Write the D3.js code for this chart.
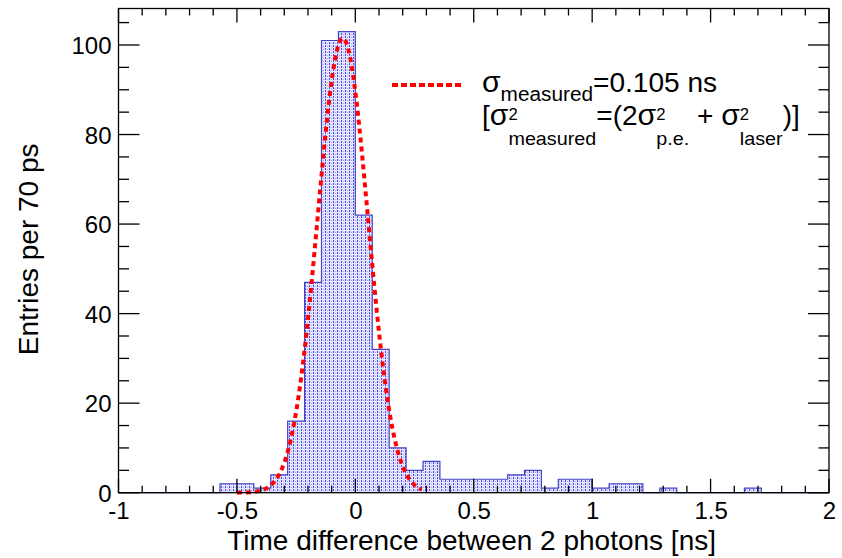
<!DOCTYPE html>
<html>
<head>
<meta charset="utf-8">
<script src="https://cdn.jsdelivr.net/npm/d3@7"></script>
<style>
  html, body { margin: 0; padding: 0; background: #fff; }
  svg { display: block; }
  text { font-family: "Liberation Sans", Arial, sans-serif; fill: #000; }
</style>
</head>
<body>
<svg id="chart" width="842" height="558"></svg>
<script>
// ---------------- data ----------------
const xRange = [-1, 2];
const nBins = 42;                 // 70 ps bins between -1 and 2 ns
const counts = [0, 0, 0, 0, 0, 0, 2, 2, 1, 4, 16, 47, 101, 103, 62, 32, 10, 5, 7, 3, 3,
                3, 3, 4, 5, 1, 3, 3, 1, 2, 2, 0, 1, 0, 0, 0, 0, 1, 0, 0, 0, 0];
const yMax = 108.15;
const xMajorTicks = [-1, -0.5, 0, 0.5, 1, 1.5, 2];
const xTickLabels = ["-1", "-0.5", "0", "0.5", "1", "1.5", "2"];
const yMajorTicks = [0, 20, 40, 60, 80, 100];
const yTickLabels = ["0", "20", "40", "60", "80", "100"];
// Gaussian fit parameters
const fitAmplitude = 101.5;
const fitMean = -0.053;
const fitSigma = 0.106;
const fitRange = [-0.5, 0.28];
const xTitle = "Time difference between 2 photons [ns]";
const yTitle = "Entries per 70 ps";

// ---------------- layout ----------------
const plot = { left: 118.5, right: 829, top: 8.5, bottom: 492.7 };
const svg = d3.select("#chart");

const x = d3.scaleLinear().domain(xRange).range([plot.left, plot.right]);
const y = d3.scaleLinear().domain([0, yMax]).range([plot.bottom, plot.top]);

// fill pattern (ROOT-like dotted hatch)
const defs = svg.append("defs");
const pat = defs.append("pattern").attr("id", "dots")
  .attr("patternUnits", "userSpaceOnUse").attr("width", 4).attr("height", 3);
pat.append("rect").attr("x", 0).attr("y", 0).attr("width", 4).attr("height", 3).attr("fill", "#e4e4fc");
pat.append("rect").attr("x", 1).attr("y", 0).attr("width", 1).attr("height", 2).attr("fill", "#4a4aee");
pat.append("rect").attr("x", 3).attr("y", 1).attr("width", 1).attr("height", 1).attr("fill", "#a4a4f6");

const clip = defs.append("clipPath").attr("id", "plotclip");
clip.append("rect").attr("x", plot.left).attr("y", plot.top - 5)
  .attr("width", plot.right - plot.left).attr("height", plot.bottom - plot.top + 10);

// histogram
const binW = (xRange[1] - xRange[0]) / nBins;
const bins = counts.map((c, i) => ({ x0: xRange[0] + i * binW, x1: xRange[0] + (i + 1) * binW, c }));

const areaPts = [];
bins.forEach(b => { areaPts.push([b.x0, b.c]); areaPts.push([b.x1, b.c]); });

svg.append("path")
  .attr("d", d3.area().x(d => x(d[0])).y0(y(0)).y1(d => y(d[1]))(areaPts))
  .attr("fill", "url(#dots)");

const linePts = [[bins[0].x0, 0], ...areaPts, [bins[bins.length - 1].x1, 0]];
svg.append("path")
  .attr("d", d3.line().x(d => x(d[0])).y(d => y(d[1]))(linePts))
  .attr("fill", "none").attr("stroke", "#4444c4").attr("stroke-width", 1.2);

// gaussian fit curve
const fitX = d3.range(fitRange[0], fitRange[1] + 1e-9, (fitRange[1] - fitRange[0]) / 200);
const gauss = v => fitAmplitude * Math.exp(-0.5 * Math.pow((v - fitMean) / fitSigma, 2));
svg.append("path")
  .attr("clip-path", "url(#plotclip)")
  .attr("d", d3.line().x(d => x(d)).y(d => y(gauss(d)))(fitX))
  .attr("fill", "none").attr("stroke", "#ff0000").attr("stroke-width", 4)
  .attr("stroke-dasharray", "5,4");

// frame
svg.append("rect")
  .attr("x", plot.left).attr("y", plot.top)
  .attr("width", plot.right - plot.left).attr("height", plot.bottom - plot.top)
  .attr("fill", "none").attr("stroke", "#000").attr("stroke-width", 1.3);

// ticks (ROOT style: inside, on all four sides)
const xMajLen = 14, xMinLen = 7, yMajLen = 21, yMinLen = 10.5;
const xMinor = d3.range(-1, 2.0001, 0.1).map(v => +v.toFixed(2));
const yMinor = d3.range(0, yMax, 5);
const ticksG = svg.append("g").attr("stroke", "#000").attr("stroke-width", 1.3);
xMinor.forEach(v => {
  const major = xMajorTicks.some(m => Math.abs(m - v) < 1e-6);
  const L = major ? xMajLen : xMinLen;
  ticksG.append("line").attr("x1", x(v)).attr("x2", x(v)).attr("y1", plot.bottom).attr("y2", plot.bottom - L);
  ticksG.append("line").attr("x1", x(v)).attr("x2", x(v)).attr("y1", plot.top).attr("y2", plot.top + L);
});
yMinor.forEach(v => {
  const major = yMajorTicks.includes(v);
  const L = major ? yMajLen : yMinLen;
  ticksG.append("line").attr("x1", plot.left).attr("x2", plot.left + L).attr("y1", y(v)).attr("y2", y(v));
  ticksG.append("line").attr("x1", plot.right).attr("x2", plot.right - L).attr("y1", y(v)).attr("y2", y(v));
});

// tick labels via d3 axis generators (lines hidden, labels only)
const xAxis = d3.axisBottom(x).tickValues(xMajorTicks).tickSize(0).tickPadding(0)
  .tickFormat((d, i) => xTickLabels[i]);
const gx = svg.append("g").attr("transform", `translate(0,${plot.bottom})`).call(xAxis);
gx.select(".domain").remove();
gx.selectAll("text").attr("font-size", 24).attr("font-family", "Liberation Sans, Arial, sans-serif")
  .attr("fill", "#000").attr("y", 26).attr("dy", 0);

const yAxis = d3.axisLeft(y).tickValues(yMajorTicks).tickSize(0).tickPadding(0)
  .tickFormat((d, i) => yTickLabels[i]);
const gy = svg.append("g").attr("transform", `translate(${plot.left},0)`).call(yAxis);
gy.select(".domain").remove();
gy.selectAll("text").attr("font-size", 24).attr("font-family", "Liberation Sans, Arial, sans-serif")
  .attr("fill", "#000").attr("x", -7).attr("dy", "0.36em");

// axis titles
svg.append("text").attr("x", plot.right - 113).attr("y", 550)
  .attr("text-anchor", "end").attr("font-size", 28).text(xTitle);
svg.append("text").attr("transform", `translate(38,143.5) rotate(-90)`)
  .attr("text-anchor", "end").attr("font-size", 28).text(yTitle);

// legend
const legY = 85;
svg.append("line").attr("x1", 392).attr("x2", 464).attr("y1", legY).attr("y2", legY)
  .attr("stroke", "#ff0000").attr("stroke-width", 4).attr("stroke-dasharray", "6,3");

// rich text helper: superscript + subscript stacked at the same x
const stretch = 1.04;
const sigmaFont = "DejaVu Serif, Liberation Serif, serif";
function rich(x0, segs) {
  const g = svg.append("g").attr("transform", `translate(${x0},0) scale(${stretch},1)`);
  let cx = 0, stackStart = null, stackW = 0;
  segs.forEach(s => {
    const t = g.append("text").attr("x", cx).attr("y", s.y)
      .attr("font-size", s.size).attr("xml:space", "preserve").style("white-space", "pre").text(s.t);
    if (s.font) t.attr("font-family", s.font);
    const w = t.node().getComputedTextLength();
    if (s.stack) {
      stackStart = cx; stackW = w;
    } else if (stackStart !== null) {
      cx = stackStart + Math.max(stackW, w); stackStart = null;
    } else {
      cx += w;
    }
  });
}
const big = 27, small = 19, sup = 16, sig = 29;
const b1 = 92, b2 = 125;
rich(482, [
  { t: "σ", size: sig, y: b1, font: sigmaFont },
  { t: "measured", size: 20, y: b1 + 9 },
  { t: "=0.105 ns", size: big, y: b1 }
]);
rich(482, [
  { t: "[", size: big, y: b2 },
  { t: "σ", size: sig, y: b2, font: sigmaFont },
  { t: "2", size: sup, y: b2 - 5, stack: true },
  { t: "measured", size: small, y: b2 + 20 },
  { t: "=(2", size: big, y: b2 },
  { t: "σ", size: sig, y: b2, font: sigmaFont },
  { t: "2", size: sup, y: b2 - 5, stack: true },
  { t: "p.e.", size: small, y: b2 + 20 },
  { t: " + ", size: big, y: b2 },
  { t: "σ", size: sig, y: b2, font: sigmaFont },
  { t: "2", size: sup, y: b2 - 5, stack: true },
  { t: "laser", size: small, y: b2 + 20 },
  { t: ")]", size: big, y: b2 }
]);
</script>
</body>
</html>
